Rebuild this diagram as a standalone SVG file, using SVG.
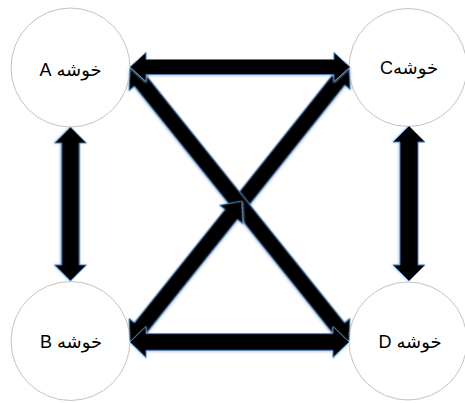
<svg xmlns="http://www.w3.org/2000/svg" width="465" height="403" viewBox="0 0 465 403">
  <style>
    .node circle { fill: #ffffff; stroke: #c3c3c3; stroke-width: 1; }
    .node text { font-family: "Liberation Sans", "DejaVu Sans", sans-serif; font-size: 18px; fill: #000000; text-anchor: middle; }
    .arrow { fill: #000000; stroke: #4f81bd; stroke-width: 1; stroke-linejoin: miter; filter: url(#glow); }
  </style>
  <defs>
    <filter id="glow" x="-10%" y="-10%" width="120%" height="120%">
      <feDropShadow dx="0" dy="1" stdDeviation="1" flood-color="#9dc3e6" flood-opacity="0.8"/>
    </filter>
  </defs>
  <rect width="465" height="403" fill="#ffffff"/>

  <g id="node-A" class="node">
    <circle cx="70.5" cy="67.5" r="59.5"/>
    <text x="70.5" y="76" direction="rtl" unicode-bidi="embed">خوشه A</text>
  </g>
  <g id="node-C" class="node">
    <circle cx="408" cy="67.5" r="59"/>
    <text x="409" y="74" direction="rtl" unicode-bidi="embed">خوشهC</text>
  </g>
  <g id="node-B" class="node">
    <circle cx="70.5" cy="341" r="59.5"/>
    <text x="71" y="348" direction="rtl" unicode-bidi="embed">خوشه B</text>
  </g>
  <g id="node-D" class="node">
    <circle cx="408" cy="341" r="59"/>
    <text x="410" y="348" direction="rtl" unicode-bidi="embed">خوشه D</text>
  </g>

  <g id="connectors">
    <!-- A <-> B vertical -->
    <polygon class="arrow" transform="translate(70.5,127) rotate(90)" points="0,0 16,-16 16,-9 138,-9 138,-16 154,0 138,16 138,9 16,9 16,16"/>
    <!-- C <-> D vertical -->
    <polygon class="arrow" transform="translate(409,126) rotate(90)" points="0,0 16,-16 16,-9 139,-9 139,-16 155,0 139,16 139,9 16,9 16,16"/>
    <!-- upper part of B-C diagonal, head at C (tail under A-D) -->
    <polygon class="arrow" transform="translate(239.5,204.5) rotate(-51.46)" points="0,-8 159,-8 159,-15 176,0 159,15 159,8 0,8"/>
    <!-- A <-> D diagonal -->
    <polygon class="arrow" transform="translate(130,68) rotate(51.26)" points="0,0 17,-15 17,-8 333,-8 333,-15 350,0 333,15 333,8 17,8 17,15"/>
    <!-- B <-> middle, lower part of B-C diagonal -->
    <polygon class="arrow" transform="translate(130,341) rotate(-51.34)" points="0,0 17,-15 17,-8 162,-8 162,-15 179,0 162,15 162,8 17,8 17,15"/>
    <!-- A <-> C horizontal -->
    <polygon class="arrow" transform="translate(130,67)" points="0,0 16,-14.5 16,-7.5 204,-7.5 204,-14.5 220,0 204,14.5 204,7.5 16,7.5 16,14.5"/>
    <!-- B <-> D horizontal -->
    <polygon class="arrow" transform="translate(130,342)" points="0,0 16,-15.5 16,-8.3 203,-8.3 203,-15.5 219,0 203,15.5 203,8.3 16,8.3 16,15.5"/>
  </g>
</svg>
